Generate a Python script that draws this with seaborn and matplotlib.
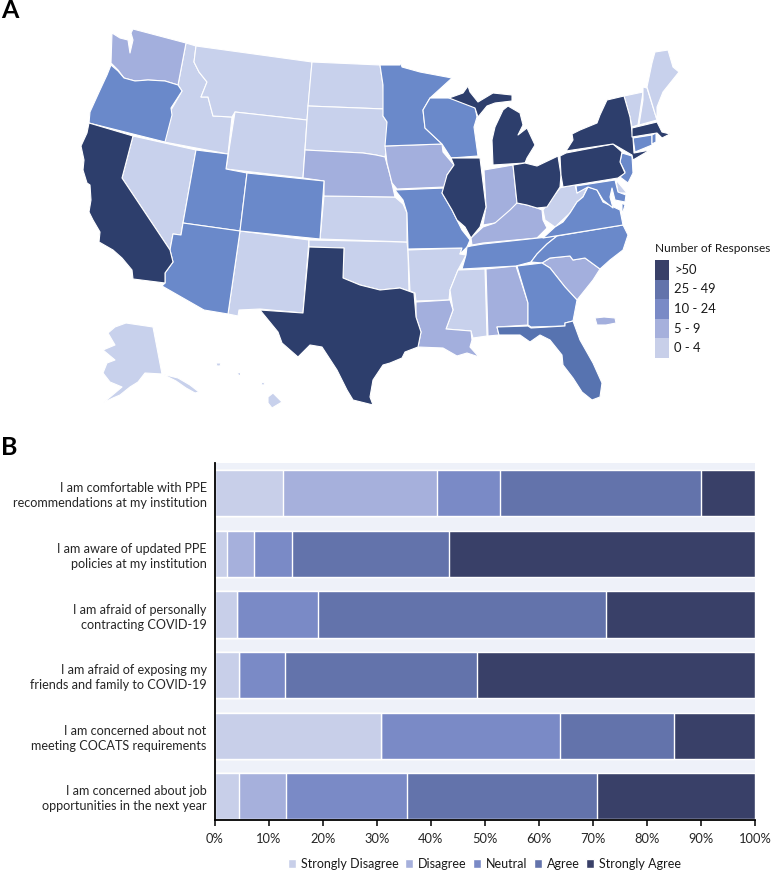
import matplotlib
matplotlib.use('Agg')
import matplotlib.pyplot as plt
from matplotlib.patches import Rectangle
import pandas as pd
import seaborn as sns

# map outlines (pixels)
WA = [(112,33),(120,38),(128,40),(130,53),(133,40),(131,33),(133,29),(186,43),(178,85),(165,81),(148,80),(135,81),(124,78),(118,70),(111,63)]
OR = [(111,65),(118,71),(124,78),(135,81),(148,80),(165,81),(178,85),(182,91),(171,108),(172,115),(165,142),(89,123),(90,112),(100,90),(107,75)]
CA = [(89,123),(133,136),(122,178),(170,250),(173,262),(165,273),(165,283),(133,279),(132,270),(122,258),(113,250),(99,242),(100,232),(93,220),(89,212),(91,200),(90,185),(87,183),(83,170),(84,160),(81,146),(87,133)]
NV = [(133,136),(196,150),(183,223),(181,235),(173,234),(170,250),(122,178)]
ID = [(186,43),(196,46),(194,62),(199,72),(207,82),(201,97),(208,97),(213,116),(232,117),(228,154),(164,142),(171,110),(182,91),(178,85)]
MT = [(196,46),(312,62),(307,120),(235,112),(232,117),(213,116),(208,97),(201,97),(207,82),(199,72),(194,62)]
WY = [(235,112),(307,120),(303,178),(226,169)]
ND = [(312,62),(380,65),(383,85),(385,109),(308,106)]
SD = [(308,106),(385,109),(383,116),(387,122),(387,146),(385,157),(376,155),(363,153),(305,150)]
NE = [(305,150),(363,153),(376,155),(385,157),(390,175),(395,197),(324,196),(324,181),(303,178)]
CO = [(247,173),(324,181),(320,239),(240,231)]
UT = [(196,150),(228,154),(226,169),(247,173),(240,231),(183,223)]
AZ = [(183,223),(240,231),(228,314),(204,310),(162,286),(165,283),(165,273),(173,262),(170,250),(173,234),(181,235)]
NM = [(240,231),(309,240),(303,313),(260,309),(239,310),(238,316),(228,314)]
TX = [(309,247),(344,248),(343,278),(360,285),(380,290),(400,288),(414,293),(416,317),(421,332),(418,347),(405,352),(402,358),(390,363),(383,365),(373,380),(370,397),(373,405),(353,400),(347,390),(337,370),(322,347),(310,345),(298,357),(282,343),(278,332),(260,310),(303,313)]
OK = [(309,240),(407,242),(408,252),(409,291),(400,288),(380,290),(360,285),(343,278),(344,248),(309,247)]
KS = [(324,196),(395,197),(403,204),(407,213),(407,242),(320,239)]
IA = [(385,146),(442,144),(443,152),(454,165),(447,175),(445,187),(397,189),(392,183),(387,163)]
MN = [(380,65),(400,65),(400,60),(402,67),(420,72),(452,78),(430,98),(423,110),(425,128),(442,144),(385,146),(387,122),(383,116),(383,85)]
WI = [(430,98),(450,98),(475,107),(477,117),(474,127),(478,156),(451,158),(442,144),(425,128),(423,110)]
IL = [(451,158),(480,158),(486,207),(480,227),(471,238),(465,227),(457,220),(452,210),(442,193),(447,175),(454,165)]
IN = [(484,170),(513,165),(517,203),(505,220),(495,223),(483,225),(486,207)]
MI_LOWER = [(493,165),(492,140),(495,127),(503,110),(508,106),(520,113),(523,125),(518,135),(527,128),(535,145),(527,158),(525,163)]
MI_UPPER = [(449,98),(463,93),(468,86),(470,92),(478,102),(493,93),(512,95),(512,101),(495,103),(487,106),(478,117),(475,108)]
OH = [(513,165),(525,163),(537,166),(558,156),(561,175),(560,187),(547,207),(537,208),(527,205),(517,203)]
KY = [(471,238),(472,245),(483,243),(537,238),(547,228),(543,220),(542,210),(537,208),(527,205),(517,203),(510,210),(495,223),(483,227)]
MO = [(395,190),(445,188),(442,193),(452,210),(462,230),(470,240),(467,247),(460,254),(462,248),(408,249),(407,213),(403,200)]
AR = [(408,250),(462,248),(460,254),(466,255),(458,270),(450,290),(449,300),(416,301),(415,293),(410,291)]
LA = [(416,302),(450,300),(453,310),(446,329),(471,331),(472,340),(470,347),(479,357),(467,353),(457,356),(443,348),(418,347),(421,332),(416,317)]
MS = [(458,270),(485,269),(487,336),(473,338),(471,331),(446,329),(453,310),(450,290)]
AL = [(486,269),(516,266),(528,303),(528,325),(497,327),(499,335),(488,336)]
GA = [(517,266),(542,263),(550,268),(565,287),(577,300),(573,321),(565,323),(565,326),(531,327),(528,325),(528,303)]
SC = [(542,263),(550,258),(570,256),(573,260),(585,258),(600,269),(593,280),(577,300),(565,287),(550,268)]
FL = [(497,327),(528,326),(531,328),(565,326),(565,323),(573,321),(580,340),(593,363),(602,383),(600,397),(592,400),(582,392),(573,378),(563,365),(562,355),(550,340),(540,335),(530,342),(520,335),(503,335),(499,335)]
TN = [(467,247),(471,246),(483,244),(557,236),(547,244),(537,254),(531,262),(516,266),(462,269),(466,255)]
NC = [(557,236),(623,225),(628,235),(623,250),(610,260),(600,269),(585,258),(573,260),(570,256),(550,258),(542,263),(531,262),(537,254),(547,244)]
VA = [(543,238),(623,225),(620,210),(603,202),(597,190),(588,187),(583,197),(577,202),(570,213),(563,222),(555,227)]
VA_SHORE = [(622,203),(625,205),(622,215)]
WV = [(543,210),(560,188),(563,187),(575,185),(577,193),(588,186),(583,197),(577,202),(570,213),(555,227),(545,220)]
PA = [(560,156),(566,153),(613,144),(622,152),(620,162),(625,173),(618,178),(563,187),(561,175)]
NY = [(566,151),(573,140),(572,134),(580,130),(597,123),(600,115),(607,100),(624,96),(630,117),(633,138),(634,153),(650,150),(633,160),(632,155),(613,144)]
NJ = [(622,153),(632,156),(633,173),(628,183),(620,177),(625,172),(620,162)]
CT = [(633,138),(652,135),(652,145),(635,152)]
RI = [(652,135),(656,133),(656,142),(652,144)]
MA = [(632,128),(657,122),(662,132),(670,134),(662,138),(657,133),(632,137)]
VT = [(624,96),(643,92),(638,125),(632,127),(630,117)]
NH = [(643,87),(647,88),(657,120),(639,125),(643,100)]
ME = [(647,87),(652,63),(655,52),(668,50),(673,67),(679,72),(663,92),(657,107),(657,120)]
MD = [(576,186),(615,180),(618,192),(626,195),(625,202),(615,200),(612,188),(610,197),(613,208),(603,200),(597,190),(588,187),(577,193)]
DE = [(616,180),(627,193),(618,193)]
AK = [(115,327),(126,323),(153,327),(162,374),(145,373),(138,382),(130,387),(120,395),(113,398),(103,403),(122,387),(110,382),(103,373),(107,363),(115,360),(103,350),(115,345),(108,333)]
AK_TAIL = [(162,374),(178,378),(190,385),(199,392),(195,393),(186,388),(176,381)]
HI = [(268,397),(273,393),(282,402),(272,408),(268,403)]
HI_2 = [(216,363),(221,363),(220,366),(217,366)]
HI_3 = [(237,372),(240,372),(240,375),(238,375)]
HI_4 = [(261,382),(265,383),(264,385),(262,385)]
PR = [(595,318),(604,317),(615,318),(616,323),(606,325),(597,325)]

states_0_4 = [NV, ID, MT, WY, ND, SD, NM, OK, KS, AR, MS, WV, VT, NH, ME, DE, AK, AK_TAIL, HI, HI_2, HI_3, HI_4]
states_5_9 = [WA, NE, IA, IN, KY, LA, AL, SC, PR]
states_10_24 = [OR, UT, CO, AZ, MN, WI, MO, TN, NC, VA, VA_SHORE, GA, NJ, CT, RI, MD]
states_25_49 = [FL]
states_over_50 = [CA, TX, IL, MI_LOWER, MI_UPPER, OH, PA, NY, MA]

map_colors = ['#C8D1EC', '#A3AFDD', '#6A89CA', '#5773B0', '#2D3E6C']
legend_colors = ['#C8CFE9', '#A6B0DC', '#7A8AC6', '#6373AB', '#394068']
bin_labels = ['0 - 4', '5 - 9', '10 - 24', '25 - 49', '>50']

# survey answers, percent
questions = [
    'I am comfortable with PPE\nrecommendations at my institution',
    'I am aware of updated PPE\npolicies at my institution',
    'I am afraid of personally\ncontracting COVID-19',
    'I am afraid of exposing my\nfriends and family to COVID-19',
    'I am concerned about not\nmeeting COCATS requirements',
    'I am concerned about job\nopportunities in the next year',
]
answers = ['Strongly Disagree', 'Disagree', 'Neutral', 'Agree', 'Strongly Agree']
strongly_disagree = [12.5, 2.2, 4.1, 4.5, 30.8, 4.5]
disagree = [28.7, 5.1, 0, 0, 0, 8.7]
neutral = [11.5, 6.9, 14.9, 8.5, 33.1, 22.4]
agree = [37.3, 29.2, 53.5, 35.5, 21.1, 35.2]
strongly_agree = [10.0, 56.6, 27.5, 51.5, 15.0, 29.2]

sns.set_theme(style='white')
plt.rcParams['font.family'] = ['Lato', 'DejaVu Sans']
plt.rcParams['text.color'] = '#1a1a1a'

W, H = 773, 871
fig = plt.figure(figsize=(W / 100, H / 100), dpi=100)

# panel A: everything in picture pixels
ax_map = fig.add_axes([0, 0, 1, 1])
ax_map.set_xlim(0, W)
ax_map.set_ylim(H, 0)
ax_map.axis('off')

groups = [states_0_4, states_5_9, states_10_24, states_25_49, states_over_50]
for color, group in zip(map_colors, groups):
    for outline in group:
        xs, ys = zip(*outline)
        ax_map.fill(xs, ys, facecolor=color, edgecolor='white', linewidth=0.8, joinstyle='round')

ax_map.text(655, 248, 'Number of Responses', fontsize=8.6, va='center')
for i, (color, label) in enumerate(zip(legend_colors[::-1], bin_labels[::-1])):
    y0 = 260 + i * 19.6
    ax_map.add_patch(Rectangle((655, y0), 13.5, 19.6, facecolor=color, edgecolor='none'))
    ax_map.text(674, y0 + 9.8, label, fontsize=9.4, va='center')

ax_map.text(1, 11, 'A', fontsize=18, fontweight='bold', color='black', va='center')
ax_map.text(1, 447, 'B', fontsize=18, fontweight='bold', color='black', va='center')

# panel B: stacked bars, drawn back to front from running totals
left, right, top, bottom = 215, 755, 463, 820
ax = fig.add_axes([left / W, 1 - bottom / H, (right - left) / W, (bottom - top) / H])
ax.set_facecolor('#EEF1F9')

df = pd.DataFrame({
    'question': questions,
    answers[0]: strongly_disagree,
    answers[1]: disagree,
    answers[2]: neutral,
    answers[3]: agree,
    answers[4]: strongly_agree,
})
totals = df[answers].cumsum(axis=1)
totals['question'] = questions

for answer, color in list(zip(answers, legend_colors))[::-1]:
    sns.barplot(data=totals, y='question', x=answer, color=color, width=0.76,
                saturation=1, label=answer, ax=ax, orient='h')

ax.set_xlim(0, 100)
ax.set_ylim(5.39, -0.5)
ax.set_xlabel('')
ax.set_ylabel('')
ax.set_xticks(range(0, 101, 10))
ax.set_xticklabels([f'{t}%' for t in range(0, 101, 10)], fontsize=9.3)
ax.tick_params(axis='x', length=4, width=1.1, color='black', pad=5, bottom=True)
ax.tick_params(axis='y', length=0, pad=6)
for lab in ax.get_yticklabels():
    lab.set_fontsize(9.1)
    lab.set_linespacing(1.3)
    lab.set_multialignment('right')
for side in ['top', 'right']:
    ax.spines[side].set_visible(False)
for side in ['left', 'bottom']:
    ax.spines[side].set_visible(True)
    ax.spines[side].set_color('black')
    ax.spines[side].set_linewidth(1.3)

handles, labels = ax.get_legend_handles_labels()
ax.legend(handles[::-1], labels[::-1], ncol=5, loc='center', bbox_to_anchor=(0.499, -0.122),
          frameon=False, fontsize=9, handlelength=0.6, handleheight=0.7, handletextpad=0.4,
          columnspacing=0.55, borderpad=0, borderaxespad=0)

plt.savefig('out.png', dpi=100)
